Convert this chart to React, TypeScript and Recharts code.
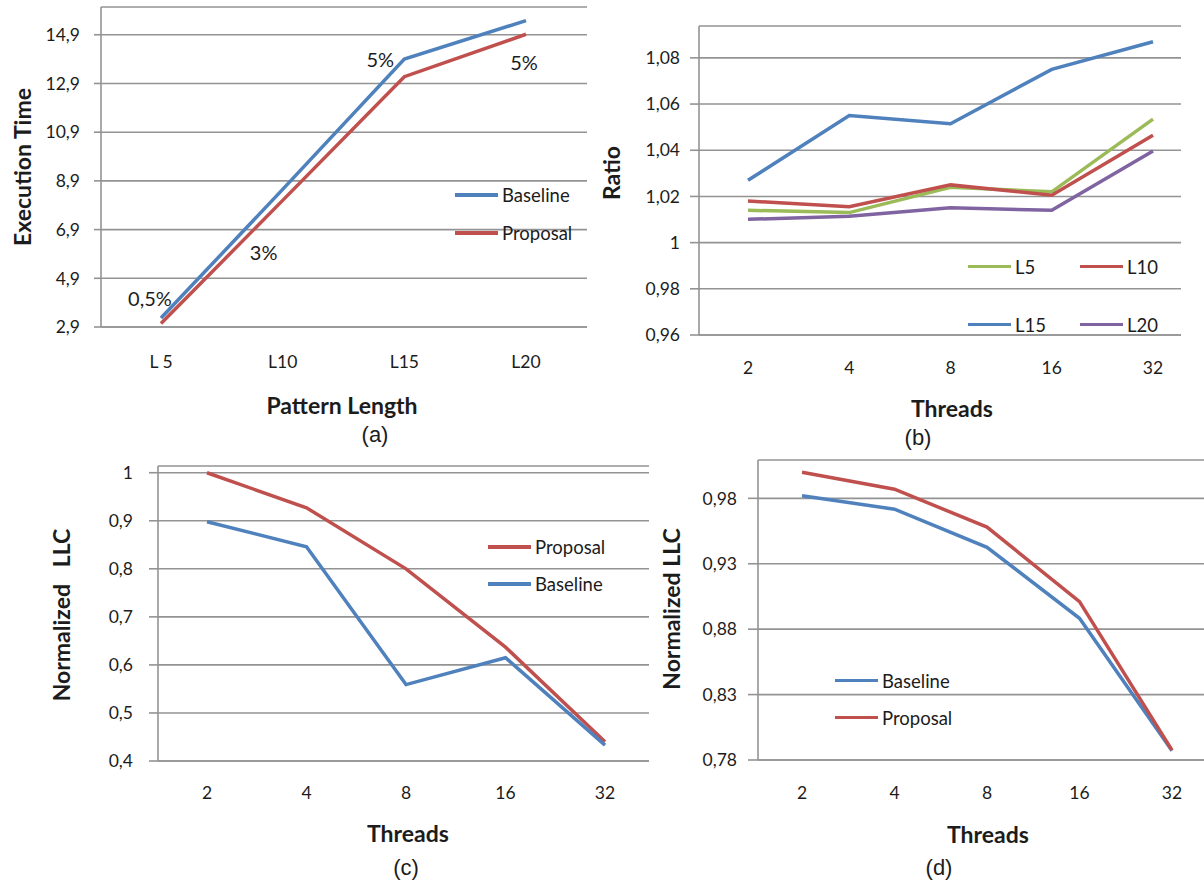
import { LineChart, Line, XAxis, YAxis, CartesianGrid, Legend, LabelList } from 'recharts';

// (a) execution time vs pattern length
const patternLengths = ['L 5', 'L10', 'L15', 'L20'];
const execBaseline = [3.27, 8.55, 13.9, 15.48];
const execProposal = [3.04, 8.1, 13.18, 14.92];
const gainLabels = ['0,5%', '3%', '5%', '5%'];
const execTicks = [2.9, 4.9, 6.9, 8.9, 10.9, 12.9, 14.9];

// (b) ratio per thread count
const threads = ['2', '4', '8', '16', '32'];
const ratioL5 = [1.014, 1.013, 1.024, 1.022, 1.0535];
const ratioL10 = [1.018, 1.0155, 1.025, 1.0205, 1.0465];
const ratioL15 = [1.027, 1.055, 1.0515, 1.075, 1.087];
const ratioL20 = [1.0101, 1.0114, 1.0151, 1.014, 1.0397];
const ratioTicks = [0.96, 0.98, 1, 1.02, 1.04, 1.06, 1.08];

// (c) normalized LLC
const llcProposalC = [1.0, 0.927, 0.8, 0.637, 0.44];
const llcBaselineC = [0.898, 0.846, 0.559, 0.615, 0.433];
const llcTicksC = [0.4, 0.5, 0.6, 0.7, 0.8, 0.9, 1];

// (d) normalized LLC
const llcBaselineD = [0.982, 0.9717, 0.9426, 0.8883, 0.787];
const llcProposalD = [1.0, 0.987, 0.958, 0.901, 0.7876];
const llcTicksD = [0.78, 0.83, 0.88, 0.93, 0.98];

const BLUE = '#4F81BD';
const RED = '#C0504D';
const GREEN = '#9BBB59';
const PURPLE = '#8064A2';
const GRID = '#939393';
const FONT = 'Lato, "Open Sans", sans-serif';
const CAPTION_FONT = '"Liberation Sans", Arial, sans-serif';
const TEXT = '#1c1c1c';

// label offsets (px) for the gain annotations in (a)
const gainOffsets = [
  [-11, -20],
  [-19, 63],
  [-24, 0],
  [-2, 41],
];

const execData = patternLengths.map((name, i) => ({
  name,
  baseline: execBaseline[i],
  proposal: execProposal[i],
  gain: gainLabels[i],
}));

const ratioData = threads.map((name, i) => ({
  name,
  L5: ratioL5[i],
  L10: ratioL10[i],
  L15: ratioL15[i],
  L20: ratioL20[i],
}));

const llcDataC = threads.map((name, i) => ({ name, proposal: llcProposalC[i], baseline: llcBaselineC[i] }));
const llcDataD = threads.map((name, i) => ({ name, baseline: llcBaselineD[i], proposal: llcProposalD[i] }));

const comma = (v: number) => String(v).replace('.', ',');
const tickStyle = { fontSize: 17.5, fill: TEXT, fontFamily: FONT };

const Text = ({ x, y, children, rotate = false, bold = false, size = 23, family = FONT }: any) => (
  <div
    style={{
      position: 'absolute',
      left: x,
      top: y,
      transform: `translate(-50%, -50%)${rotate ? ' rotate(-90deg)' : ''}`,
      fontFamily: family,
      fontWeight: bold ? 700 : 400,
      fontSize: size,
      color: TEXT,
      whiteSpace: 'pre',
      lineHeight: 1,
    }}
  >
    {children}
  </div>
);

// keeps legend entries in series order instead of alphabetical
const LegendBox = ({ payload, order, columns, rowHeight, colWidth }: any) => {
  const items = [...(payload || [])].sort((a: any, b: any) => order.indexOf(a.value) - order.indexOf(b.value));
  return (
    <div style={{ display: 'grid', gridTemplateColumns: `repeat(${columns}, ${colWidth}px)`, fontFamily: FONT }}>
      {items.map((p: any) => (
        <div key={p.value} style={{ display: 'flex', alignItems: 'center', height: rowHeight }}>
          <div style={{ width: 43, height: 3.5, background: p.color, marginRight: 4 }} />
          <span style={{ fontSize: 18.5, color: TEXT }}>{p.value}</span>
        </div>
      ))}
    </div>
  );
};

const renderGain = (props: any) => {
  const { x, y, index } = props;
  const [dx, dy] = gainOffsets[index];
  return (
    <text
      x={x + dx}
      y={y + dy}
      textAnchor="middle"
      dominantBaseline="central"
      fontSize={20}
      fontFamily={FONT}
      fill={TEXT}
    >
      {gainLabels[index]}
    </text>
  );
};

const lineProps = { type: 'linear' as const, dot: false, activeDot: false, strokeWidth: 3.5, isAnimationActive: false };
const axisStroke = { stroke: GRID, strokeWidth: 1.6 };

const App = () => {
  return (
    <div style={{ position: 'absolute', left: 0, top: 0, width: 1204, height: 884, background: '#fff', overflow: 'hidden' }}>
      {/* (a) */}
      <div style={{ position: 'absolute', left: 0, top: 0 }}>
        <LineChart width={600} height={450} data={execData} margin={{ top: 7, right: 13, left: 0, bottom: 73 }}>
          <CartesianGrid vertical={false} stroke={GRID} strokeWidth={1.6} />
          <XAxis
            dataKey="name"
            padding={{ left: 60, right: 61 }}
            height={50}
            tickLine={false}
            tickSize={0}
            tickMargin={29}
            axisLine={axisStroke}
            tick={tickStyle}
          />
          <YAxis
            width={101}
            domain={[2.9, 16.04]}
            ticks={execTicks}
            tickFormatter={comma}
            tickSize={7}
            tickMargin={14}
            tickLine={axisStroke}
            axisLine={axisStroke}
            tick={tickStyle}
          />
          <Legend
            layout="vertical"
            align="center"
            verticalAlign="middle"
            wrapperStyle={{ left: 455, top: 176, width: 160, height: 'auto' }}
            content={(p: any) => (
              <LegendBox payload={p.payload} order={['Baseline', 'Proposal']} columns={1} rowHeight={38} colWidth={160} />
            )}
          />
          <Line {...lineProps} dataKey="baseline" name="Baseline" stroke={BLUE}>
            <LabelList dataKey="gain" content={renderGain} />
          </Line>
          <Line {...lineProps} dataKey="proposal" name="Proposal" stroke={RED} />
        </LineChart>
      </div>
      <Text x={22} y={167} rotate bold>Execution Time</Text>
      <Text x={342} y={405} bold>Pattern Length</Text>
      <Text x={375} y={435} size={22} family={CAPTION_FONT}>(a)</Text>

      {/* (b) */}
      <div style={{ position: 'absolute', left: 600, top: 0 }}>
        <LineChart width={604} height={450} data={ratioData} margin={{ top: 26, right: 23, left: 0, bottom: 65 }}>
          <CartesianGrid vertical={false} stroke={GRID} strokeWidth={1.6} />
          <XAxis
            dataKey="name"
            padding={{ left: 49, right: 28 }}
            height={50}
            tickLine={false}
            tickSize={0}
            tickMargin={27}
            axisLine={axisStroke}
            tick={tickStyle}
          />
          <YAxis
            width={99}
            domain={[0.96, 1.0938]}
            ticks={ratioTicks}
            tickFormatter={comma}
            tickSize={9}
            tickMargin={10}
            tickLine={axisStroke}
            axisLine={axisStroke}
            tick={tickStyle}
          />
          <Legend
            layout="vertical"
            align="center"
            verticalAlign="middle"
            wrapperStyle={{ left: 368, top: 237.5, width: 230, height: 'auto' }}
            content={(p: any) => (
              <LegendBox payload={p.payload} order={['L5', 'L10', 'L15', 'L20']} columns={2} rowHeight={58} colWidth={112} />
            )}
          />
          <Line {...lineProps} dataKey="L5" name="L5" stroke={GREEN} />
          <Line {...lineProps} dataKey="L10" name="L10" stroke={RED} />
          <Line {...lineProps} dataKey="L15" name="L15" stroke={BLUE} />
          <Line {...lineProps} dataKey="L20" name="L20" stroke={PURPLE} />
        </LineChart>
      </div>
      <Text x={611} y={173} rotate bold>Ratio</Text>
      <Text x={952} y={408} bold>Threads</Text>
      <Text x={918} y={438} size={22} family={CAPTION_FONT}>(b)</Text>

      {/* (c) */}
      <div style={{ position: 'absolute', left: 0, top: 450 }}>
        <LineChart width={660} height={434} data={llcDataC} margin={{ top: 16, right: 11, left: 0, bottom: 73 }}>
          <CartesianGrid vertical={false} stroke={GRID} strokeWidth={1.6} />
          <XAxis
            dataKey="name"
            padding={{ left: 49, right: 44 }}
            height={50}
            tickLine={false}
            tickSize={0}
            tickMargin={26}
            axisLine={axisStroke}
            tick={tickStyle}
          />
          <YAxis
            width={158}
            domain={[0.4, 1.014]}
            ticks={llcTicksC}
            tickFormatter={comma}
            tickSize={9}
            tickMargin={16}
            tickLine={axisStroke}
            axisLine={axisStroke}
            tick={tickStyle}
          />
          <Legend
            layout="vertical"
            align="center"
            verticalAlign="middle"
            wrapperStyle={{ left: 488, top: 78.5, width: 170, height: 'auto' }}
            content={(p: any) => (
              <LegendBox payload={p.payload} order={['Proposal', 'Baseline']} columns={1} rowHeight={37} colWidth={170} />
            )}
          />
          <Line {...lineProps} dataKey="proposal" name="Proposal" stroke={RED} />
          <Line {...lineProps} dataKey="baseline" name="Baseline" stroke={BLUE} />
        </LineChart>
      </div>
      <Text x={61} y={615} rotate bold>{'Normalized   LLC'}</Text>
      <Text x={408} y={833} bold>Threads</Text>
      <Text x={406} y={868} size={22} family={CAPTION_FONT}>(c)</Text>

      {/* (d) */}
      <div style={{ position: 'absolute', left: 660, top: 450 }}>
        <LineChart width={544} height={434} data={llcDataD} margin={{ top: 10, right: 0, left: 0, bottom: 74 }}>
          <CartesianGrid vertical={false} stroke={GRID} strokeWidth={1.6} />
          <XAxis
            dataKey="name"
            padding={{ left: 44, right: 32 }}
            height={50}
            tickLine={false}
            tickSize={0}
            tickMargin={27}
            axisLine={axisStroke}
            tick={tickStyle}
          />
          <YAxis
            width={98}
            domain={[0.78, 1.0093]}
            ticks={llcTicksD}
            tickFormatter={comma}
            tickSize={10}
            tickMargin={11}
            tickLine={axisStroke}
            axisLine={axisStroke}
            tick={tickStyle}
          />
          <Legend
            layout="vertical"
            align="center"
            verticalAlign="middle"
            wrapperStyle={{ left: 175, top: 212, width: 170, height: 'auto' }}
            content={(p: any) => (
              <LegendBox payload={p.payload} order={['Baseline', 'Proposal']} columns={1} rowHeight={37} colWidth={170} />
            )}
          />
          <Line {...lineProps} dataKey="baseline" name="Baseline" stroke={BLUE} />
          <Line {...lineProps} dataKey="proposal" name="Proposal" stroke={RED} />
        </LineChart>
      </div>
      <Text x={671} y={609} rotate bold>Normalized LLC</Text>
      <Text x={988} y={834} bold>Threads</Text>
      <Text x={939} y={868} size={22} family={CAPTION_FONT}>(d)</Text>
    </div>
  );
};

export default App;
